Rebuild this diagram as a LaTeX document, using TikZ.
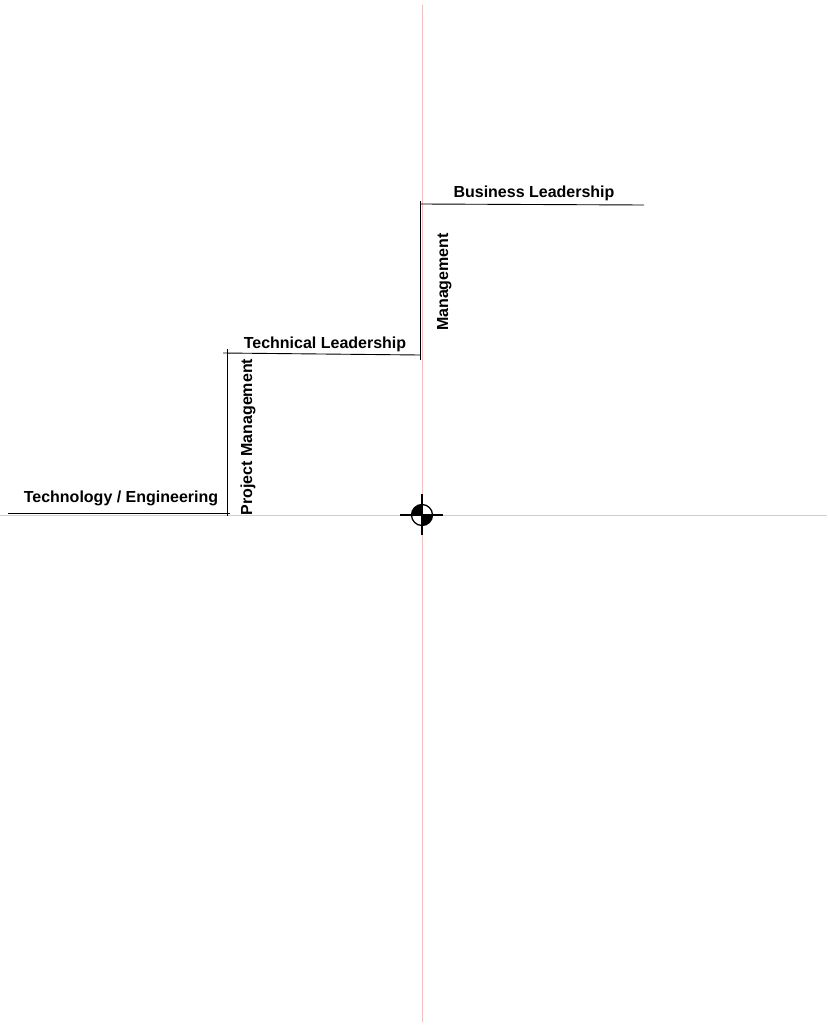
\documentclass[tikz,border=0pt]{standalone}
\usepackage{fontspec}
\setmainfont{Liberation Sans}
\usetikzlibrary{positioning}

\begin{document}
\begin{tikzpicture}[x=1pt, y=-1pt,
  axis/.style={draw={rgb,255:red,245;green,190;blue,190}, line width=1pt},
  stepline/.style={draw=black, line width=0.9pt},
  label/.style={font=\bfseries\fontsize{16}{19}\selectfont, inner sep=0pt, anchor=base}]
\useasboundingbox (0,0) rectangle (827,1025);

% axes
\coordinate (top) at (422,5);
\coordinate (bottom) at (422,1022);
\coordinate (left) at (0,515);
\coordinate (right) at (827,515);
\draw[axis] (top) -- (bottom);
\draw[axis] (left) -- (right);

% step corners
\coordinate (T0) at (8,513);
\coordinate (T1) at (230,513);
\coordinate (P0) at (227,516);
\coordinate (P1) at (227,349);
\coordinate (L0) at (223,353);
\coordinate (L1) at (420,355);
\coordinate (M0) at (420,360);
\coordinate (M1) at (420,201);
\coordinate (B0) at (421,204);
\coordinate (B1) at (644,205);

% steps
\draw[stepline] (T0) -- (T1);
\draw[stepline] (P0) -- (P1);
\draw[stepline] (L0) -- (L1);
\draw[stepline] (M0) -- (M1);
\draw[stepline] (B0) -- (B1);

% labels
\node[label] (tech) at (121,502) {Technology / Engineering};
\node[label, rotate=90] (pm) at (252,437) {Project Management};
\node[label] (tl) at (325,348) {Technical Leadership};
\node[label, rotate=90] (mg) at (448,282) {Management};
\node[label] (bl) at (534,197) {Business Leadership};

% centre mark
\coordinate (O) at (422,515);
\begin{scope}
  \clip (O) rectangle ++(-12,-12);
  \fill[black] (O) circle[radius=10.5];
\end{scope}
\begin{scope}
  \clip (O) rectangle ++(12,12);
  \fill[black] (O) circle[radius=10.5];
\end{scope}
\draw[line width=1.3pt] (O) circle[radius=10.5];
\coordinate (Cw) at (400,515);
\coordinate (Ce) at (443,515);
\coordinate (Cn) at (422,494);
\coordinate (Cs) at (422,535);
\draw[line width=1.8pt] (Cw) -- (Ce);
\draw[line width=1.8pt] (Cn) -- (Cs);
\end{tikzpicture}
\end{document}
